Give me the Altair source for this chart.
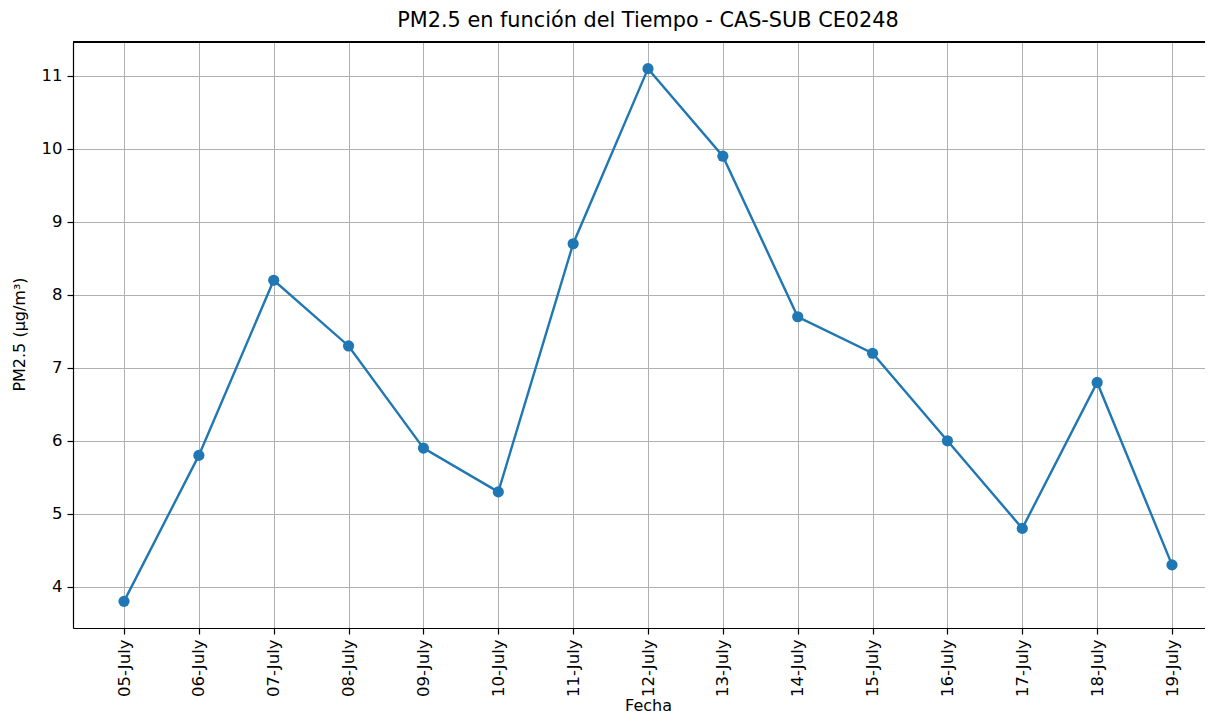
import altair as alt
import pandas as pd

dates = ["05-July", "06-July", "07-July", "08-July", "09-July", "10-July", "11-July",
         "12-July", "13-July", "14-July", "15-July", "16-July", "17-July", "18-July", "19-July"]
pm25 = [3.8, 5.8, 8.2, 7.3, 5.9, 5.3, 8.7, 11.1, 9.9, 7.7, 7.2, 6.0, 4.8, 6.8, 4.3]
y_ticks = [4, 5, 6, 7, 8, 9, 10, 11]

df = pd.DataFrame({"idx": list(range(len(dates))), "fecha": dates, "pm": pm25})

label_arr = "[" + ",".join("'" + d + "'" for d in dates) + "]"
FONT = "DejaVu Sans"
XDOM = [-0.6813, 14.4408]
YDOM = [3.435, 11.465]
W, H = 1132, 586

x_enc = alt.X(
    "idx:Q",
    scale=alt.Scale(domain=XDOM, nice=False, zero=False),
    axis=alt.Axis(
        title="Fecha",
        values=list(range(len(dates))),
        labelExpr=label_arr + "[datum.value]",
        labelAngle=270,
        labelAlign="right",
        labelBaseline="middle",
        labelPadding=5,
        titleX=W / 2 + 9,
        titleY=77,
        titleBaseline="middle",
        titleAlign="center",
        grid=True,
    ),
)
y_enc = alt.Y(
    "pm:Q",
    scale=alt.Scale(domain=YDOM, nice=False, zero=False),
    axis=alt.Axis(
        title="PM2.5 (µg/m³)",
        values=y_ticks,
        format="d",
        labelPadding=5,
        titleX=-54,
        titleY=H / 2 - 1,
        titleBaseline="middle",
        titleAlign="center",
        grid=True,
    ),
)

base = alt.Chart(df).encode(x=x_enc, y=y_enc)
line = base.mark_line(color="#1f77b4", strokeWidth=2.4)
pts = base.mark_circle(color="#1f77b4", size=125, opacity=1)

# top spine
top_spine = alt.Chart(df).mark_rule(color="black", strokeWidth=1.2).encode(
    x=alt.datum(XDOM[0]), x2=alt.datum(XDOM[1]), y=alt.datum(YDOM[1])
)

chart = alt.layer(top_spine, line, pts).properties(
    width=W,
    height=H,
    autosize=alt.AutoSizeParams(type="none"),
    padding={"left": 65, "top": 34, "right": 0, "bottom": 86},
    background="white",
    title=alt.TitleParams(
        "PM2.5 en función del Tiempo - CAS-SUB CE0248",
        font=FONT, fontSize=20.8, fontWeight="normal", color="black",
        anchor="middle", offset=10, dx=9,
    ),
).configure_view(
    stroke=None
).configure_axis(
    labelFont=FONT, titleFont=FONT, labelFontSize=16.5, titleFontSize=16,
    labelColor="black", titleColor="black", titleFontWeight="normal",
    domainColor="black", domainWidth=1.2, tickColor="black", tickSize=6, tickWidth=1.2,
    gridColor="#b0b0b0", gridWidth=1, gridOpacity=1,
)

chart.save("out.html", embed_options={"renderer": "svg", "actions": False})
